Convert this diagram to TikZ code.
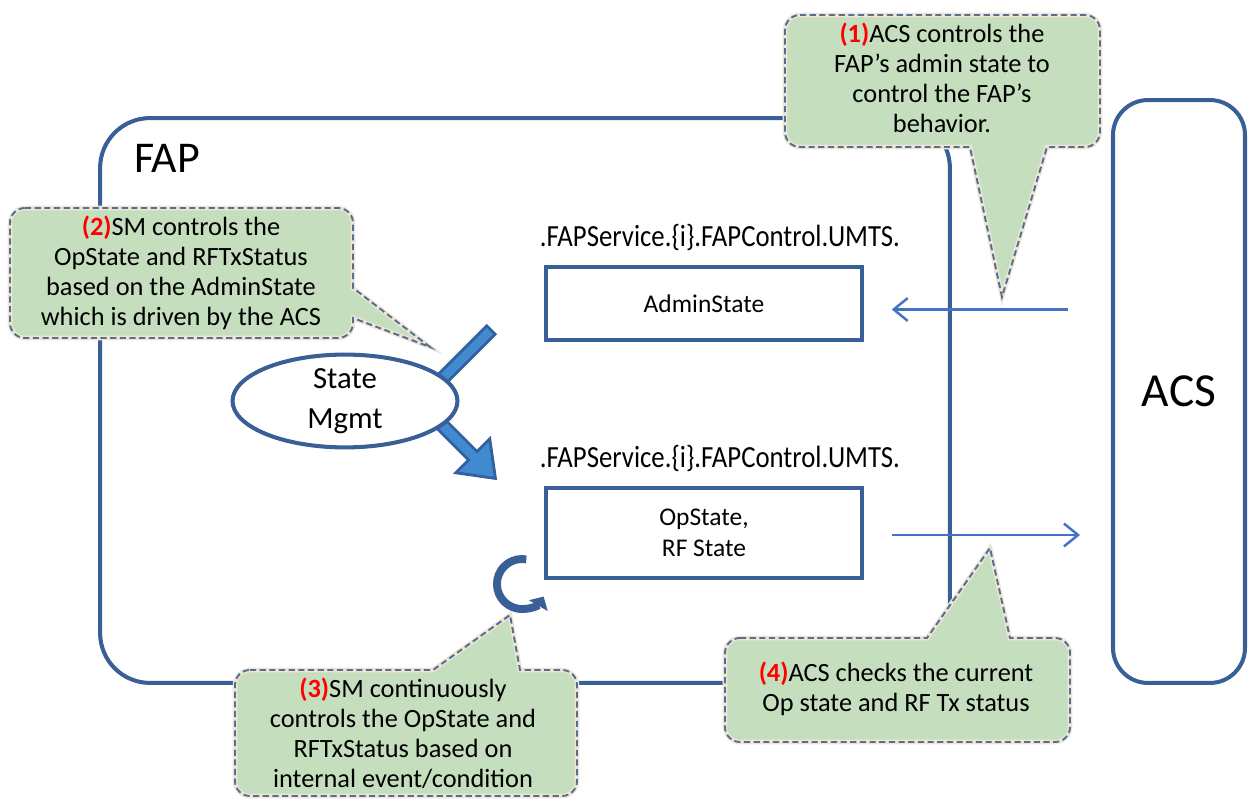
\documentclass[tikz,border=0pt]{standalone}
\usepackage{fontspec}
\setmainfont{Carlito}
\usetikzlibrary{arrows.meta,positioning,shapes.geometric,calc}

\definecolor{fapblue}{RGB}{56,96,150}
\definecolor{linkblue}{RGB}{68,114,196}
\definecolor{notegreen}{RGB}{196,222,190}
\definecolor{noteedge}{RGB}{84,110,150}
\definecolor{notecream}{RGB}{238,230,212}
\definecolor{bigfill}{RGB}{66,138,208}
\definecolor{bigedge}{RGB}{50,98,158}

\newcommand{\stepno}[1]{\textcolor{red}{\textbf{(#1)}}}
\newcommand{\umtspath}{\scalebox{0.87}[1]{.FAPService.\{i\}.FAPControl.UMTS.}}

\tikzset{
  framebox/.style={draw=fapblue, line width=2.3pt, rounded corners=1cm,
    minimum width=17cm, minimum height=11.3cm},
  acsbox/.style={draw=fapblue, line width=2.3pt, rounded corners=0.7cm,
    minimum width=2.64cm, minimum height=11.66cm, font=\fontsize{27}{30}\selectfont},
  statebox/.style={draw=fapblue, line width=2pt, minimum width=6.32cm,
    align=center, font=\fontsize{14.5}{18}\selectfont},
  pathlabel/.style={font=\fontsize{17.5}{20}\selectfont, inner sep=0pt},
  mgmt/.style={ellipse, draw=fapblue, line width=2.3pt, fill=white,
    minimum width=4.5cm, minimum height=1.84cm, align=center, inner sep=0pt,
    font=\fontsize{17.5}{23}\selectfont},
  link/.style={draw=linkblue, line width=1.4pt,
    -{Straight Barb[length=8pt,width=13pt,line width=1.4pt]}},
  fatarrow/.style={draw=bigedge, line width=1.6pt, fill=bigfill, line join=miter},
  cyclearrow/.style={draw=fapblue, line width=4.5pt, -{Triangle[length=6pt,width=12pt]}},
  callout/.style={draw=noteedge, line width=1.1pt, dash pattern=on 3.5pt off 2pt,
    preaction={draw=notecream, line width=2.6pt, solid, fill=notegreen}},
  notetext/.style={align=center, inner sep=0pt, font=\fontsize{15}{17}\selectfont},
}

\begin{document}
\begin{tikzpicture}[x=0.02cm, y=-0.02cm]
\useasboundingbox (0,0) rectangle (1249,800);

% FAP and ACS
\node[framebox] (fap) at (525,400.5) {};
\node[font=\fontsize{25}{30}\selectfont] (faplabel) at (167,158) {FAP};
\node[acsbox] (acs) at (1179,391.5) {ACS};

% parameters
\node[statebox, minimum height=1.46cm] (admin) at (704,303.5) {AdminState};
\node[pathlabel] (adminpath) at (720,237) {\umtspath};
\node[statebox, minimum height=1.8cm] (opst) at (704,533) {OpState,\\RF State};
\node[pathlabel] (oppath) at (720,458) {\umtspath};

\draw[link] ($(acs.west |- admin.east)+(-43,6)$) -- ($(admin.east)+(28,6)$);
\draw[link] ($(opst.east)+(28,2)$) -- ($(acs.west |- opst.east)+(-31,2)$);

% state management
\begin{scope}[shift={(491,330)}, rotate=-135]
  \path[fatarrow] (0,-6) -- (80,-6) -- (80,6) -- (0,6) -- cycle;
\end{scope}
\begin{scope}[shift={(441,424)}, rotate=-45]
  \path[fatarrow] (0,-6) -- (45,-6) -- (45,-24) -- (77,0) -- (45,24) -- (45,6) -- (0,6) -- cycle;
\end{scope}
\node[mgmt] (mgmt) at (345,401) {State\\Mgmt};
\draw[cyclearrow] (526.3,559.4) arc[start angle=280, end angle=30, radius=25];

% notes
\draw[callout] (800,15) -- (1085,15) arc[start angle=-90, end angle=0, radius=15]
  -- (1100,132) arc[start angle=0, end angle=90, radius=15]
  -- (1047,147) -- (1002,297) -- (970,147)
  -- (800,147) arc[start angle=90, end angle=180, radius=15]
  -- (785,30) arc[start angle=180, end angle=270, radius=15] -- cycle;
\node[notetext] (note1) at (942,78)
  {\stepno{1}ACS controls the\\FAP’s admin state to\\control the FAP’s\\behavior.};

\draw[callout] (25,208) -- (338,208) arc[start angle=-90, end angle=0, radius=15]
  -- (353,288) -- (430,347) -- (353,318)
  -- (353,323) arc[start angle=0, end angle=90, radius=15]
  -- (25,338) arc[start angle=90, end angle=180, radius=15]
  -- (10,223) arc[start angle=180, end angle=270, radius=15] -- cycle;
\node[notetext] (note2) at (181,273)
  {\stepno{2}SM controls the\\OpState and RFTxStatus\\based on the AdminState\\which is driven by the ACS};

\draw[callout] (250,670) -- (433,670) -- (510,615) -- (520,670)
  -- (562,670) arc[start angle=-90, end angle=0, radius=15]
  -- (577,781) arc[start angle=0, end angle=90, radius=15]
  -- (250,796) arc[start angle=90, end angle=180, radius=15]
  -- (235,685) arc[start angle=180, end angle=270, radius=15] -- cycle;
\node[notetext] (note3) at (403,733)
  {\stepno{3}SM continuously\\controls the OpState and\\RFTxStatus based on\\internal event/condition};

\draw[callout] (740,638) -- (927,638) -- (990,548) -- (1010,638)
  -- (1055,638) arc[start angle=-90, end angle=0, radius=15]
  -- (1070,727) arc[start angle=0, end angle=90, radius=15]
  -- (740,742) arc[start angle=90, end angle=180, radius=15]
  -- (725,653) arc[start angle=180, end angle=270, radius=15] -- cycle;
\node[notetext] (note4) at (896,689)
  {\stepno{4}ACS checks the current\\Op state and RF Tx status};
\end{tikzpicture}
\end{document}
